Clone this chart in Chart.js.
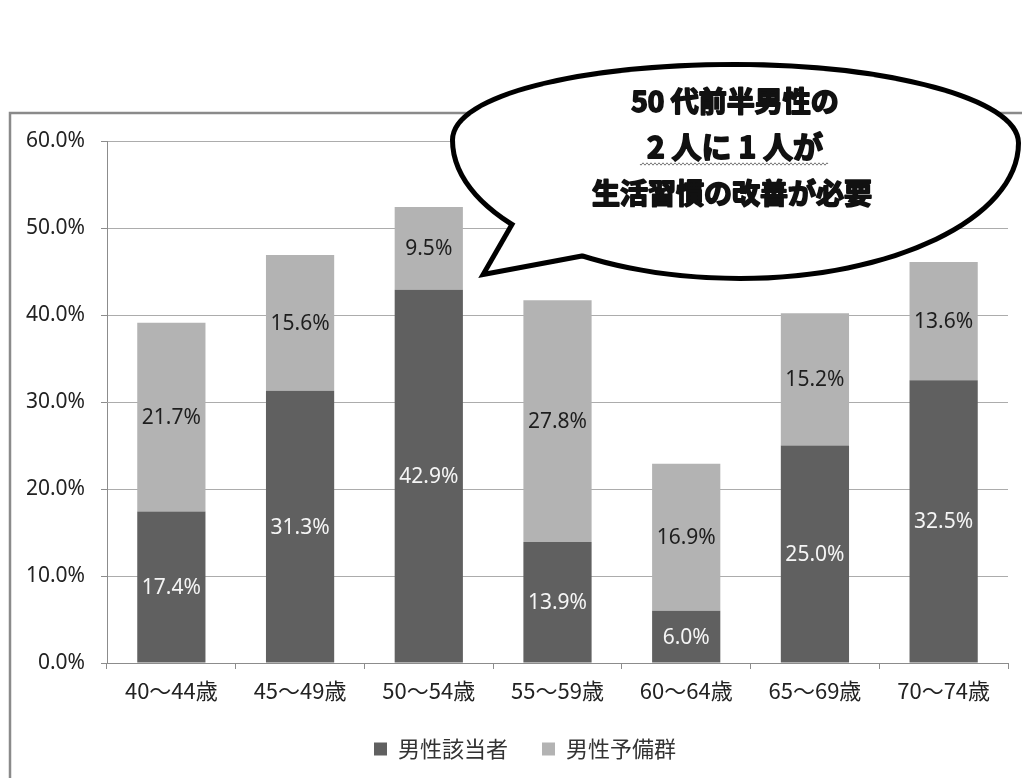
<!DOCTYPE html>
<html lang="ja">
<head>
<meta charset="utf-8">
<title>男性該当者・予備群の割合</title>
<script src="https://cdn.jsdelivr.net/npm/chart.js@4.4.1/dist/chart.umd.min.js"></script>
<style>
  html, body { margin: 0; padding: 0; background: #fff; }
  canvas { display: block; }
</style>
</head>
<body>
<canvas id="grafico" width="1022" height="778"></canvas>
<script>
// 年齢区分
const edades = ['40～44歳', '45～49歳', '50～54歳', '55～59歳', '60～64歳', '65～69歳', '70～74歳'];
// 系列名
const nombresSerie = ['男性該当者', '男性予備群'];
// 該当者の割合 (%)
const valoresAplica = [17.4, 31.3, 42.9, 13.9, 6.0, 25.0, 32.5];
// 予備群の割合 (%)
const valoresReserva = [21.7, 15.6, 9.5, 27.8, 16.9, 15.2, 13.6];
// 縦軸の目盛り
const ticksY = [0, 10, 20, 30, 40, 50, 60];
// 吹き出しの文言
const lineasGlobo = ['50 代前半男性の', '2 人に 1 人が', '生活習慣の改善が必要'];

const colorOscuro = '#606060';
const colorClaro = '#b3b3b3';
const fuenteNum = '"Noto Sans", sans-serif';
const fuenteJp = '"Noto Sans CJK JP", "Noto Sans", sans-serif';

// 外枠と背景
const pluginFondo = {
    id: 'fondo',
    beforeDraw: (chart) => {
        const ctx = chart.ctx;
        ctx.save();
        ctx.fillStyle = '#fff';
        ctx.fillRect(0, 0, chart.width, chart.height);
        ctx.strokeStyle = '#8a8a8a';
        ctx.lineWidth = 2.5;
        ctx.strokeRect(10, 113, 1100, 800);
        ctx.restore();
    }
};

// 凡例を少し右へ寄せる
const pluginLeyenda = {
    id: 'moverLeyenda',
    afterLayout: (chart) => {
        chart.legend.left += 16;
        chart.legend.right += 16;
    }
};

// 棒の中央に値を書く
const pluginEtiquetas = {
    id: 'etiquetas',
    afterDatasetsDraw: (chart) => {
        const ctx = chart.ctx;
        ctx.save();
        ctx.font = '21px ' + fuenteNum;
        ctx.textAlign = 'center';
        ctx.textBaseline = 'middle';
        chart.data.datasets.forEach((ds, i) => {
            const meta = chart.getDatasetMeta(i);
            ctx.fillStyle = i === 0 ? '#f5f5f5' : '#1e1e1e';
            meta.data.forEach((barra, j) => {
                const y = (barra.y + barra.base) / 2;
                ctx.fillText(ds.data[j].toFixed(1) + '%', barra.x, y + 1);
            });
        });
        ctx.restore();
    }
};

// 吹き出し
const trazarElipse = (ctx) => {
    ctx.beginPath();
    ctx.moveTo(455, 140);
    ctx.bezierCurveTo(455, 98, 580, 67, 735, 67);
    ctx.bezierCurveTo(890, 67, 1016, 102, 1016, 143);
    ctx.bezierCurveTo(1016, 216, 892, 276, 740, 276);
    ctx.bezierCurveTo(583, 276, 455, 215, 455, 140);
    ctx.closePath();
};

const trazarCola = (ctx) => {
    ctx.beginPath();
    ctx.moveTo(522, 212);
    ctx.lineTo(488, 271);
    ctx.lineTo(600, 250);
    ctx.closePath();
};

// 太めの文字 (塗り + 縁取り)
const textoGrueso = (ctx, texto, x, y) => {
    ctx.strokeText(texto, x, y);
    ctx.fillText(texto, x, y);
};

const pluginGlobo = {
    id: 'globo',
    afterDraw: (chart) => {
        const ctx = chart.ctx;
        ctx.save();
        ctx.lineJoin = 'miter';
        ctx.strokeStyle = '#000';
        ctx.lineWidth = 10;
        trazarElipse(ctx);
        ctx.stroke();
        trazarCola(ctx);
        ctx.stroke();
        ctx.fillStyle = '#fff';
        trazarElipse(ctx);
        ctx.fill();
        trazarCola(ctx);
        ctx.fill();

        ctx.fillStyle = '#111';
        ctx.strokeStyle = '#111';
        ctx.lineWidth = 1.8;
        ctx.lineJoin = 'round';
        ctx.textAlign = 'center';
        ctx.textBaseline = 'middle';
        ctx.font = 'bold 28px ' + fuenteJp;
        textoGrueso(ctx, lineasGlobo[0], 735, 101);
        ctx.font = 'bold 30px ' + fuenteJp;
        textoGrueso(ctx, lineasGlobo[1], 735, 147);
        ctx.font = 'bold 28px ' + fuenteJp;
        textoGrueso(ctx, lineasGlobo[2], 732, 193);

        // 波線の下線
        ctx.strokeStyle = '#777';
        ctx.lineWidth = 1;
        ctx.beginPath();
        for (let x = 640; x <= 828; x += 1) {
            const y = 164 + Math.sin((x - 640) * Math.PI / 2) * 1.2;
            if (x === 640) ctx.moveTo(x, y); else ctx.lineTo(x, y);
        }
        ctx.stroke();
        ctx.restore();
    }
};

const ctx = document.getElementById('grafico').getContext('2d');

new Chart(ctx, {
    type: 'bar',
    data: {
        labels: edades,
        datasets: [
            {
                label: nombresSerie[0],
                data: valoresAplica,
                backgroundColor: colorOscuro,
                categoryPercentage: 1,
                barPercentage: 0.53
            },
            {
                label: nombresSerie[1],
                data: valoresReserva,
                backgroundColor: colorClaro,
                categoryPercentage: 1,
                barPercentage: 0.53
            }
        ]
    },
    options: {
        responsive: false,
        animation: false,
        layout: {
            padding: { top: 141, left: 10, right: 14, bottom: 8 }
        },
        plugins: {
            tooltip: { enabled: false },
            legend: {
                position: 'bottom',
                labels: {
                    color: '#333',
                    font: { family: fuenteJp, size: 22 },
                    boxWidth: 13,
                    boxHeight: 13,
                    padding: 34
                }
            }
        },
        scales: {
            x: {
                stacked: true,
                afterFit: (escala) => { escala.height = 41; },
                grid: {
                    drawOnChartArea: false,
                    tickLength: 6,
                    color: '#8c8c8c'
                },
                border: { color: '#8c8c8c', width: 1 },
                ticks: {
                    color: '#222',
                    padding: 8,
                    font: { family: fuenteJp, size: 22 }
                }
            },
            y: {
                stacked: true,
                min: 0,
                max: 60,
                afterFit: (escala) => { escala.width = 97; },
                afterBuildTicks: (escala) => {
                    escala.ticks = ticksY.map(v => ({ value: v }));
                },
                grid: {
                    color: '#acacac',
                    tickColor: '#8c8c8c',
                    tickLength: 6
                },
                border: { color: '#8c8c8c', width: 1 },
                ticks: {
                    color: '#222',
                    padding: 16,
                    font: { family: fuenteNum, size: 21 },
                    callback: (v) => v.toFixed(1) + '%'
                }
            }
        }
    },
    plugins: [pluginFondo, pluginLeyenda, pluginEtiquetas, pluginGlobo]
});
</script>
</body>
</html>
